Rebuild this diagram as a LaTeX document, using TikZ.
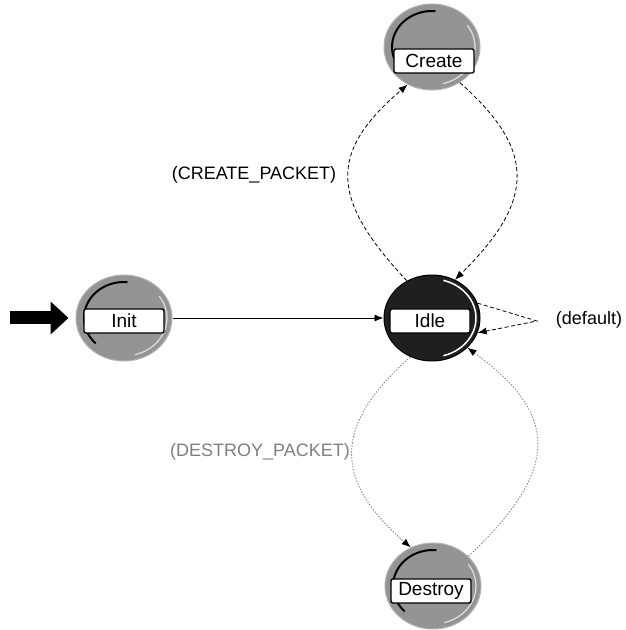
\documentclass[tikz,border=0pt]{standalone}
\usepackage{fontspec}
\setmainfont{Liberation Sans}
\usetikzlibrary{shapes.geometric,arrows.meta}

\tikzset{
  state/.style={ellipse, minimum width=96pt, minimum height=86pt, inner sep=0pt,
                fill=black!42, draw=black!30, line width=1pt},
  hot/.style={fill=black!88, draw=black},
  tag/.style={draw=black, line width=1.4pt, fill=white, rounded corners=2pt,
              minimum width=80pt, minimum height=24pt, inner sep=0pt,
              font=\fontsize{19}{20}\selectfont},
  trans/.style={-{Latex[length=9pt,width=7pt,color=black]}, line width=0.8pt},
  dashtr/.style={trans, dash pattern=on 4pt off 2.5pt},
  dottr/.style={trans, draw=black!50, dash pattern=on 1.5pt off 1.5pt},
  cond/.style={font=\fontsize{18}{20}\selectfont, inner sep=0pt},
}

% shaded rim of a state: dark upper-left arc, light lower-right arc
\newcommand\statebevel[1]{%
  \draw[black, line width=2pt] (#1.center) ++(85:40pt and 36pt)
    arc[start angle=85, end angle=225, x radius=40pt, y radius=36pt];
  \draw[black!12, line width=1.2pt] (#1.center) ++(285:43pt and 38pt)
    arc[start angle=285, end angle=395, x radius=43pt, y radius=38pt];}

\begin{document}
\begin{tikzpicture}[x=1pt,y=1pt]
  \fill[white] (0,0) rectangle (625,630);
  \useasboundingbox (0,0) rectangle (625,630);

  % states
  \node[state] (init) at (124,312) {};
  \node[state] (create) at (432,583) {};
  \node[state] (destroy) at (433,44) {};
  \node[state, hot] (idle) at (432,312) {};

  \statebevel{init}
  \statebevel{create}
  \statebevel{destroy}
  \draw[white, line width=1.5pt] (idle.center) ++(-75:44pt and 39pt)
    arc[start angle=-75, end angle=75, x radius=44pt, y radius=39pt];

  % state names
  \node[tag] (initTag) at (124,309) {Init};
  \node[tag] (createTag) at (434,569) {Create};
  \node[tag] (destroyTag) at (431,39) {Destroy};
  \node[tag] (idleTag) at (430,309) {Idle};

  % initial-state marker
  \coordinate (entry) at (10,312);
  \draw[line width=13pt, -{Triangle[length=18pt,width=32pt]}, shorten >=7pt]
    (entry) -- (init.west);

  % transitions
  \draw[trans] (init.east) -- (idle.west);

  \draw[dashtr] (idle.124) .. controls (329,432) and (329,478) .. (create.237);
  \draw[dashtr] (create.308) .. controls (536,480) and (536,430) .. (idle.59);

  \draw[dottr] (idle.241) .. controls (333,205) and (333,150) .. (destroy.120);
  \draw[dottr] (destroy.40) .. controls (560,160) and (560,215) .. (idle.320);

  \coordinate (loopTip) at (537,309);
  \draw[dashtr] (idle.18) -- (loopTip) -- (idle.342);

  % transition conditions
  \node[cond] (createCond) at (254,455) {(CREATE\_PACKET)};
  \node[cond, text=black!50] (destroyCond) at (260,178) {(DESTROY\_PACKET)};
  \node[cond] (defaultCond) at (589,310) {(default)};
\end{tikzpicture}
\end{document}
